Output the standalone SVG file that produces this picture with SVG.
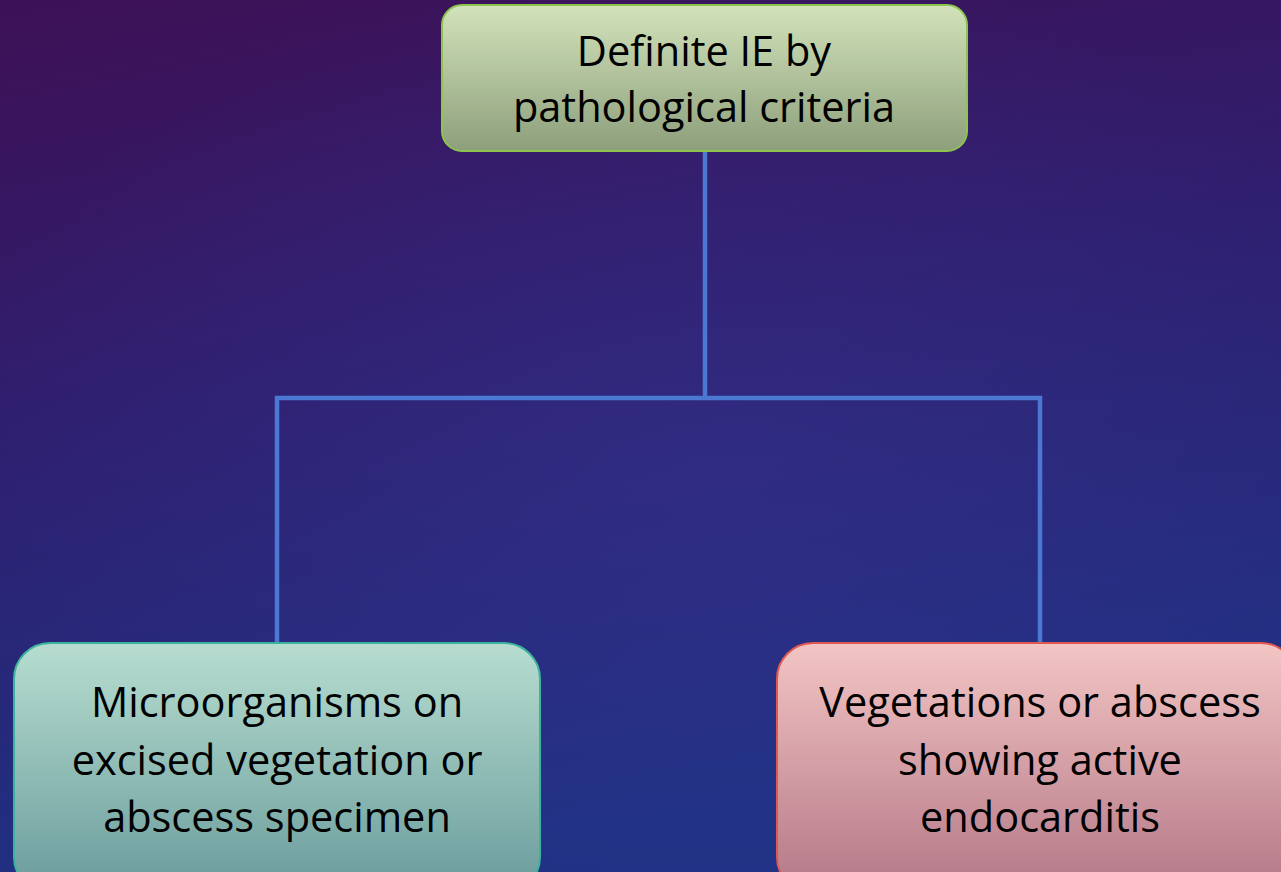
<svg xmlns="http://www.w3.org/2000/svg" width="1281" height="872" viewBox="0 0 1281 872">
<defs>
<linearGradient id="bg" x1="0" y1="0" x2="0.25" y2="1">
<stop offset="0" stop-color="#3e1156"/>
<stop offset="0.45" stop-color="#2f1e6e"/>
<stop offset="1" stop-color="#1f3183"/>
</linearGradient>
<radialGradient id="glow" cx="0.55" cy="0.55" r="0.6">
<stop offset="0" stop-color="#3a3a9a" stop-opacity="0.35"/>
<stop offset="1" stop-color="#3a3a9a" stop-opacity="0"/>
</radialGradient>
<linearGradient id="gGreen" x1="0" y1="0" x2="0" y2="1">
<stop offset="0" stop-color="#d2e3bb"/>
<stop offset="1" stop-color="#8d9f7b"/>
</linearGradient>
<linearGradient id="gTeal" x1="0" y1="0" x2="0" y2="1">
<stop offset="0" stop-color="#b7ddd0"/>
<stop offset="1" stop-color="#6a9c9c"/>
</linearGradient>
<linearGradient id="gRed" x1="0" y1="0" x2="0" y2="1">
<stop offset="0" stop-color="#f3c5c4"/>
<stop offset="1" stop-color="#b37786"/>
</linearGradient>
</defs>
<style>
.t{font-family:"Open Sans","Noto Sans",sans-serif;font-size:41.5px;fill:#000;text-anchor:middle}
.c{fill:none;stroke:#4a78d2;stroke-width:4.5}
</style>
<rect x="0" y="0" width="1281" height="872" fill="url(#bg)"/>
<rect x="0" y="0" width="1281" height="872" fill="url(#glow)"/>
<g id="connectors">
<path class="c" d="M705 151 V398"/>
<path class="c" d="M277 643 V398 H1040 V643"/>
</g>
<g id="top">
<rect x="442" y="5" width="525" height="146" rx="20" fill="url(#gGreen)" stroke="#8ec44c" stroke-width="2"/>
<text class="t" x="704" y="66">Definite IE by</text>
<text class="t" x="704" y="122">pathological criteria</text>
</g>
<g id="left">
<rect x="14" y="643" width="526" height="250" rx="36" fill="url(#gTeal)" stroke="#3cb39c" stroke-width="2"/>
<text class="t" x="277" y="717">Microorganisms on</text>
<text class="t" x="277" y="775">excised vegetation or</text>
<text class="t" x="277" y="832">abscess specimen</text>
</g>
<g id="right">
<rect x="777" y="643" width="520" height="250" rx="36" fill="url(#gRed)" stroke="#e0584f" stroke-width="2"/>
<text class="t" x="1040" y="717">Vegetations or abscess</text>
<text class="t" x="1040" y="775">showing active</text>
<text class="t" x="1040" y="832">endocarditis</text>
</g>
</svg>
